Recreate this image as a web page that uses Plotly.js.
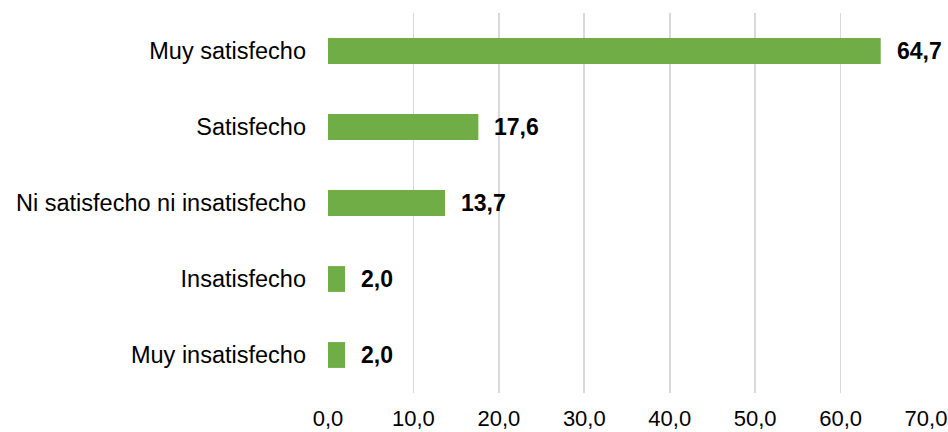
<!DOCTYPE html>
<html><head><meta charset="utf-8">
<script src="https://cdn.plot.ly/plotly-3.0.1.min.js"></script>
<style>html,body{margin:0;padding:0;background:#fff}</style>
</head><body>
<div id="chart" style="width:948px;height:432px"></div>
<script>
const categories = ["Muy insatisfecho","Insatisfecho","Ni satisfecho ni insatisfecho","Satisfecho","Muy satisfecho"];
const values = [2.0, 2.0, 13.7, 17.6, 64.7];
const tickVals = [0,10,20,30,40,50,60,70];
const tickText = ["0,0","10,0","20,0","30,0","40,0","50,0","60,0","70,0"];
const fmt = v => v.toFixed(1).replace('.', ',');

const font = "Liberation Sans, Arial, sans-serif";
const trace = {
  type: 'bar', orientation: 'h',
  x: values, y: categories,
  marker: {color: '#70AD47'},
  hoverinfo: 'none'
};
const annotations = values.map((v,i)=>({
  x: v, y: categories[i], xref:'x', yref:'y',
  text: '<b>'+fmt(v)+'</b>', showarrow:false, xanchor:'left', xshift:14,
  font:{family:font, size:23, color:'#000'}
}));
const layout = {
  width:948, height:432,
  margin:{l:328, r:22, t:13, b:39},
  paper_bgcolor:'#fff', plot_bgcolor:'#fff',
  bargap:0.66,
  showlegend:false,
  font:{family:font, size:22, color:'#000'},
  xaxis:{range:[0,70], tickvals:tickVals, ticktext:tickText, showgrid:true, gridcolor:'#d9d9d9', gridwidth:1.8,
         zeroline:false, showline:false, ticks:'', ticklabelstandoff:10, fixedrange:true,
         tickfont:{family:font, size:22, color:'#000'}},
  yaxis:{categoryorder:'array', categoryarray:categories, showgrid:false, zeroline:false, showline:false,
         ticks:'', ticklabelstandoff:21, fixedrange:true,
         tickfont:{family:font, size:23.5, color:'#000'}},
  annotations: annotations
};
Plotly.newPlot('chart',[trace],layout,{displayModeBar:false, staticPlot:true});
</script>
</body></html>
